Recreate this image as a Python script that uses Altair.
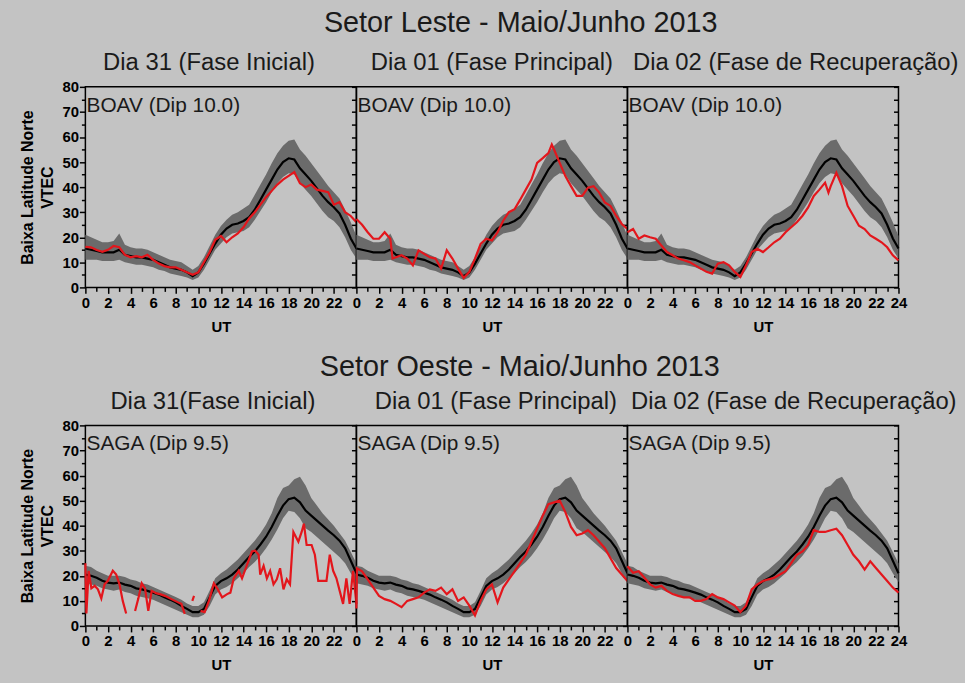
import altair as alt
import pandas as pd

# ---------------- data ----------------
HOURS = [i * 0.5 for i in range(49)]

BOAV_MEAN = [15.5, 15, 14.5, 14, 14, 14, 15, 13, 12.5, 12, 12, 11.5, 11, 10, 9, 8, 7.5, 7, 6, 4.5,
             6, 9.5, 13.5, 17.5, 21, 23.5, 25, 25.5, 26.5, 28, 31, 35, 39, 43, 47, 50, 51.5, 51, 47.5, 45,
             42.5, 39.5, 36.5, 34, 32, 29.5, 25, 19.5, 15.5]
BOAV_HI = [21, 20, 19, 18, 18, 18.5, 21.5, 17, 16, 15.5, 15.5, 15, 14, 13, 12, 11, 10.5, 10, 8.5, 7,
           8.5, 12, 16.5, 21, 24.5, 27, 29, 30, 31.5, 33, 37, 41, 45, 49.5, 53.5, 56.5, 58.5, 59, 55, 52.5,
           49.5, 46.5, 43.5, 40.5, 38, 35.5, 31, 26, 20.5]
BOAV_LO = [11, 11, 11, 10.5, 10.5, 10.5, 11, 10, 9.5, 9, 9, 8.5, 8, 7, 6.5, 5.5, 5, 4.5, 4, 3,
           4, 7, 11, 15, 17.5, 20, 21.5, 22, 22.5, 24, 27, 30.5, 34, 38, 41.5, 44, 45.5, 45, 41.5, 39,
           36.5, 33.5, 30.5, 28, 26.5, 24, 20, 15, 11.5]

SAGA_MEAN = [20.5, 20, 19.2, 18, 17.3, 17, 17.3, 16.5, 16, 15, 14.6, 14, 13.3, 12.5, 11.4, 10.5, 9.4, 8, 6.8, 5.5,
             5.5, 6.8, 11.4, 16, 17.9, 19, 20.5, 22.5, 25, 27.5, 29.7, 32.5, 35.6, 39.5, 44, 48, 50.6, 51.2, 49.3, 46,
             44, 42, 40, 38, 36.2, 34, 31, 26, 21]
SAGA_HI = [24, 23.5, 22, 21, 20, 20, 20, 19.5, 18.5, 18, 17, 16.5, 15.5, 14.5, 13.5, 12.5, 11.5, 10.5, 9, 8,
           8, 9.5, 14, 19, 21, 22.5, 24.5, 26.5, 29, 31.5, 34, 37, 40.5, 45, 51, 55, 56, 58.5, 59.5, 56,
           51, 48, 45, 42.5, 40, 37, 34, 29.5, 25]
SAGA_LO = [17, 16.5, 16, 15, 14.5, 14, 14.5, 13.5, 13, 12, 11.5, 11, 10.5, 9.5, 8.5, 7.5, 6.5, 5.5, 4.5, 3.5,
           3.5, 4.5, 8, 12.5, 14.5, 15.5, 17, 19, 21, 23.5, 25.5, 28, 31, 34.5, 38.5, 43, 46, 45.5, 43, 39,
           37.5, 35.5, 33.5, 31.5, 29.5, 27.5, 25, 21, 17.5]

# observed (red) series
BOAV_D31_H = HOURS
BOAV_D31 = [16.2, 16, 14.9, 14.2, 15, 16.5, 16, 13, 12, 12.5, 12, 13, 11, 9.5, 8.5, 8, 8, 7, 6, 5,
            6, 10, 14, 19, 20.5, 18, 20, 21.5, 24, 27.5, 30, 33, 36, 38.5, 41, 43, 44.5, 46, 41.5, 40,
            41, 39, 38.5, 38, 33, 34, 30, 28.5, 26]

BOAV_D01_H = [0, 0.5, 1, 1.5, 2, 2.5, 3, 3.2, 3.5, 4, 4.5, 5, 5.5, 6, 6.5, 7, 7.5, 8, 8.5, 9, 9.5, 10,
              10.5, 11, 11.5, 12, 12.5, 13, 13.5, 14, 14.5, 15, 15.5, 16, 16.5, 17, 17.3, 17.5, 18, 18.5,
              19, 19.5, 20, 20.5, 21, 21.5, 22, 22.5, 23, 23.5, 24]
BOAV_D01 = [27.3, 25, 22, 19.4, 19.4, 22, 19.4, 11.5, 12, 12.8, 11.5, 8.8, 14.8, 13.4, 12, 11.5, 7.5, 14.8,
            11.5, 7.5, 3.8, 6.2, 11.5, 17.4, 19.4, 18.7, 22, 26.6, 30, 31.2, 35, 39, 43, 49.7, 51.6, 53.6,
            57, 55, 49.7, 44.4, 40.4, 36.5, 36.5, 39.8, 40.4, 37.8, 33.9, 32.5, 28.6, 25.3, 23.3]

BOAV_D02_H = [0, 0.5, 1, 1.5, 2, 2.5, 3, 3.5, 4, 4.5, 5, 5.5, 6, 6.5, 7, 7.5, 8, 8.5, 9, 9.5, 10, 10.5,
              11, 11.5, 12, 12.5, 13, 13.5, 14, 14.5, 15, 15.5, 16, 16.5, 17, 17.5, 17.8, 18, 18.5, 19,
              19.5, 20, 20.5, 21, 21.5, 22, 22.5, 23, 23.5, 24]
BOAV_D02 = [22, 23.3, 19.4, 20.7, 20, 19.4, 16.7, 14.1, 12.8, 11.5, 10.8, 10.1, 8.8, 7.5, 6.2, 5.5, 9.5,
            10.1, 8.8, 6.2, 4.2, 8.8, 14.1, 15.4, 14.1, 16, 18, 19.4, 22, 24, 26, 28.6, 31.9, 36.5, 39,
            41.8, 37.8, 40.4, 45.7, 40.4, 32.5, 28.6, 24.6, 23.3, 20.7, 19.4, 18, 16, 12.8, 10.8]

SAGA_D31_H = [0.0, 0.09, 0.29, 0.53, 0.82, 1.11, 1.41, 1.7, 1.99, 2.43, 2.73, 3.02, 3.31, 3.61, 3.8,
              4.4, 4.69, 4.99, 5.28, 5.57, 5.87, 6.31, 6.6, 7.04, 7.62, 8.21, 8.5, 8.8, 9.0,
              9.47, 9.62, 9.8,
              10.2, 10.56, 10.94, 11.38, 11.67, 12.11, 12.55, 12.84, 13.14, 13.58, 13.87, 14.31, 14.75,
              15.04, 15.34, 15.48, 15.78, 16.07, 16.36, 16.66, 16.95, 17.24, 17.54, 17.83, 18.12, 18.42,
              18.86, 19.15, 19.35, 19.59, 20.03, 20.32, 20.62, 21.06, 21.35, 21.64, 21.94, 22.23, 22.52,
              22.82, 23.11, 23.4, 23.7, 24.0]
SAGA_D31 = [25, 5, 22, 15, 16, 14.6, 11, 16.6, 18, 22, 20.5, 16.6, 10, 5, None,
            6, 11, 17, 15, 6, 14, 13, 12.7, 12, 10.7, 9.4, 8.8, 4.8, None,
            10, 12, None,
            6, 5.5, 10, 17, 15, 11.4, 12.7, 13.3, 19, 22, 19, 24.4, 29.7,
            30, 28.4, 20.5, 24, 19, 22, 16.6, 18.6, 23, 14.6, 18.6, 16.6, 37.5,
            33.6, 37.5, 40.8, 32.3, 32.3, 28.4, 18, 18, 18, 28.4, 22, 19, 14,
            8.8, 19, 8.8, 22, 8.8]

SAGA_D01_H = [0, 0.05] + HOURS[1:]
SAGA_D01 = [7, 23, 21.8, 18.6, 15.3, 12, 10.7, 10, 8.8, 7.5, 10, 10.7, 11.4, 13.3, 14.6, 14, 15.3, 12.7,
            14.6, 10, 11.4, 8.1, 4.2, 10, 14.6, 16.6, 9.4, 15.3, 18.6, 21.8, 25.1, 28.4, 33.6, 38.8, 44,
            48.6, 49.3, 50, 45.4, 39.5, 36.2, 36.9, 38.2, 36.2, 33.6, 31, 27, 23.1, 20.5, 17.9]

SAGA_D02_H = HOURS
SAGA_D02 = [23.8, 21.2, 21.8, 19.2, 16.6, 15.3, 16, 14, 12.7, 12, 11.4, 11.4, 10, 10, 10.7, 12.7, 11.4,
            10.7, 9.4, 8.1, 5.5, 8.1, 14.6, 16.6, 17.9, 18.6, 19.2, 20.5, 21.8, 25.1, 28.4, 29.7, 32.3,
            38.2, 37.5, 37.5, 38.2, 38.8, 36.2, 32.3, 28.4, 25.8, 22.5, 25.8, 23.1, 20.5, 17.9, 15.3, 13.3]

ROW_TITLES = ["Setor Leste - Maio/Junho 2013", "Setor Oeste - Maio/Junho 2013"]
PANEL_TITLES = [["Dia 31 (Fase Inicial)", "Dia 01 (Fase Principal)", "Dia 02 (Fase de Recuperação)"],
                ["Dia 31(Fase Inicial)", "Dia 01 (Fase Principal)", "Dia 02 (Fase de Recuperação)"]]
STATIONS = ["BOAV (Dip 10.0)", "SAGA (Dip 9.5)"]
Y_TITLE = ["Baixa Latitude Norte", "VTEC"]
X_TITLE = "UT"

# ---------------- style ----------------
BG = "#c3c3c3"
BAND = "#6b6b6b"
RED = "#e3161c"
FONT = "Liberation Sans"
PW, PH = 273, 202

X_SCALE = alt.Scale(domain=[0, 24], nice=False, zero=False)
Y_SCALE = alt.Scale(domain=[0, 80], nice=False)


def band_df(lo, mean, hi):
    return pd.DataFrame({"h": HOURS, "lo": lo, "mean": mean, "hi": hi})


def series_df(hours, values):
    rows, seg = [], 0
    for h, v in zip(hours, values):
        if v is None:
            seg += 1
            continue
        rows.append({"h": h, "v": v, "seg": seg})
    return pd.DataFrame(rows)


def panel(bdf, rdf, station, title, first, last, tdx):
    xvals = list(range(0, 25)) if last else list(range(0, 24))
    x_axis = alt.Axis(values=xvals, labelExpr="datum.value % 2 === 0 ? datum.label : ''",
                      tickSize={"condition": {"test": "datum.value % 2 === 0", "value": 6}, "value": 4},
                      labelFlush=False, labelOverlap=False, grid=False, domain=False,
                      title=X_TITLE, titleFontSize=15, titleFontWeight="bold", titlePadding=9,
                      labelFontSize=15, labelFontWeight="bold", labelPadding=2, tickWidth=1.5)
    x = alt.X("h:Q", scale=X_SCALE, axis=x_axis)
    yvals = list(range(0, 85, 5))
    if first:
        left_axis = alt.Axis(values=yvals, labelExpr="datum.value % 10 === 0 ? datum.label : ''",
                             tickSize={"condition": {"test": "datum.value % 10 === 0", "value": 6}, "value": 4},
                             labelFlush=False, labelOverlap=False, grid=False, domain=False,
                             title=Y_TITLE, titleFontSize=16, titleFontWeight="bold", titleLineHeight=21,
                             titlePadding=6, labelFontSize=15, labelFontWeight="bold", labelPadding=1,
                             tickWidth=1.5)
        band = alt.Chart(bdf).mark_area(color=BAND, opacity=1).encode(
            x=x, y=alt.Y("lo:Q", scale=Y_SCALE, axis=left_axis), y2="hi:Q")
    else:
        band = alt.Chart(bdf).mark_area(color=BAND, opacity=1).encode(
            x=x, y=alt.Y("lo:Q", scale=Y_SCALE, axis=None), y2="hi:Q")
    right_axis = alt.Axis(orient="right", values=yvals, labels=False, domain=False, grid=False,
                          title=None, tickSize=5, offset=-5, tickWidth=1.5)
    mean = alt.Chart(bdf).mark_line(color="black", strokeWidth=2.2).encode(
        x=x, y=alt.Y("mean:Q", scale=Y_SCALE, axis=right_axis))
    red = alt.Chart(rdf).mark_line(color=RED, strokeWidth=2.2).encode(
        x=x, y=alt.Y("v:Q", scale=Y_SCALE, axis=None), detail="seg:N")
    tdf = pd.DataFrame({"h": [0.1], "v": [72.5], "t": [station]})
    text = alt.Chart(tdf).mark_text(align="left", baseline="middle", fontSize=21, font=FONT,
                                    color="#1a1a1a").encode(
        x=x, y=alt.Y("v:Q", scale=Y_SCALE, axis=None), text="t:N")
    # first panel's bounds reach above the plot (label "80"), so its title needs a smaller offset
    toff = 5 if first else 11
    return alt.layer(band, mean, red, text).resolve_axis(y="independent").properties(
        width=PW, height=PH,
        title=alt.TitleParams(title, fontSize=24, font=FONT, fontWeight="normal", color="#1a1a1a",
                              anchor="middle", dx=tdx, offset=toff))


boav_band = band_df(BOAV_LO, BOAV_MEAN, BOAV_HI)
saga_band = band_df(SAGA_LO, SAGA_MEAN, SAGA_HI)


def row_title(text, off):
    return alt.TitleParams(text, fontSize=29, font=FONT, fontWeight="normal", color="#1a1a1a",
                           anchor="middle", dx=32, offset=off)


row1 = alt.hconcat(
    panel(boav_band, series_df(BOAV_D31_H, BOAV_D31), STATIONS[0], PANEL_TITLES[0][0], True, False, -12),
    panel(boav_band, series_df(BOAV_D01_H, BOAV_D01), STATIONS[0], PANEL_TITLES[0][1], False, False, 0),
    panel(boav_band, series_df(BOAV_D02_H, BOAV_D02), STATIONS[0], PANEL_TITLES[0][2], False, True, 33),
    spacing=0, bounds="flush", title=row_title(ROW_TITLES[0], 13),
)
row2 = alt.hconcat(
    panel(saga_band, series_df(SAGA_D31_H, SAGA_D31), STATIONS[1], PANEL_TITLES[1][0], True, False, -8),
    panel(saga_band, series_df(SAGA_D01_H, SAGA_D01), STATIONS[1], PANEL_TITLES[1][1], False, False, 4),
    panel(saga_band, series_df(SAGA_D02_H, SAGA_D02), STATIONS[1], PANEL_TITLES[1][2], False, True, 31),
    spacing=0, bounds="flush", title=row_title(ROW_TITLES[1], 7),
)

chart = alt.vconcat(row1, row2, spacing=18).properties(
    padding={"left": 18, "top": 6, "right": 5, "bottom": 10}
).configure(background=BG, font=FONT).configure_view(
    stroke="black", strokeWidth=1.5
).configure_axis(
    labelFont=FONT, titleFont=FONT, labelColor="black", titleColor="black", tickColor="black"
)

chart.save("out.html", embed_options={"renderer": "svg", "actions": False})
